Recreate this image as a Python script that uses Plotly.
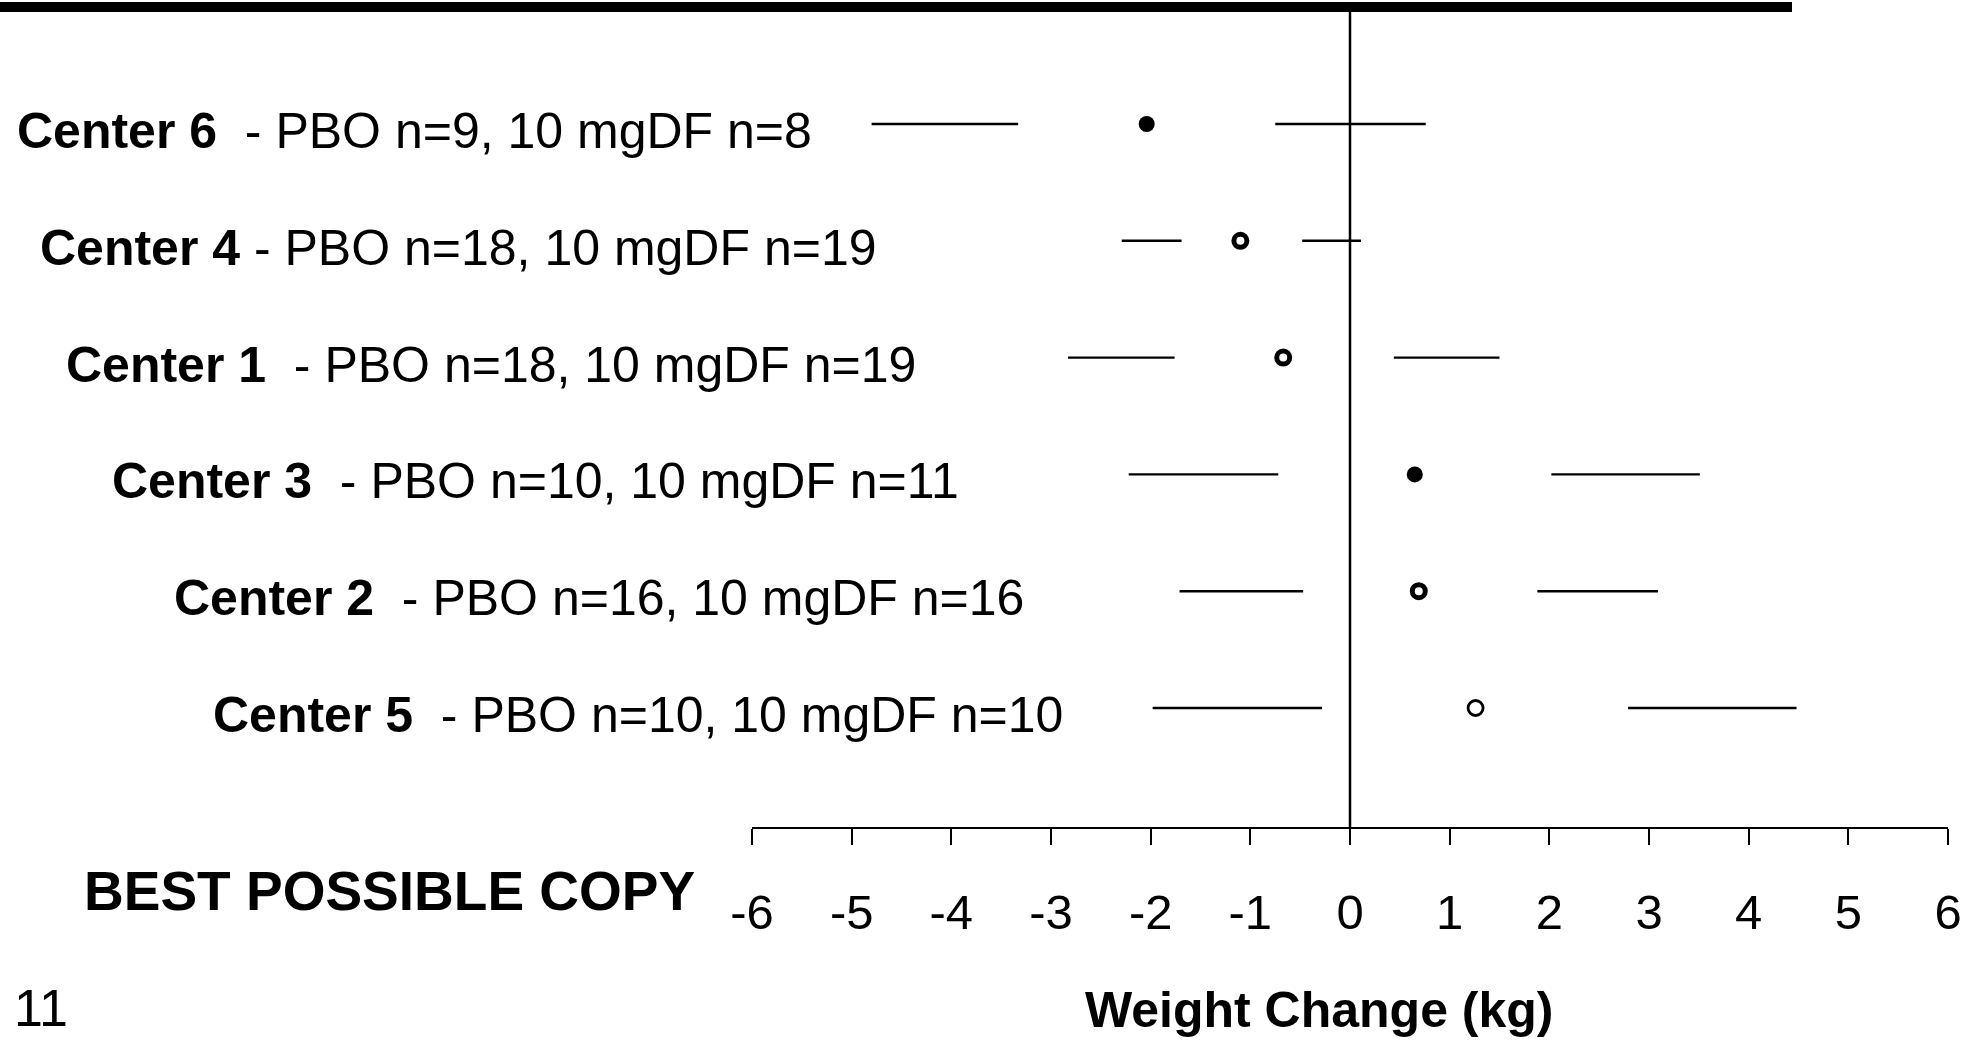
import plotly.graph_objects as go

# Per-centre weight change (kg): point estimate and the two interval segments
centers = ["Center 6", "Center 4", "Center 1", "Center 3", "Center 2", "Center 5"]
separators = ["\u00a0 - ", " - ", "\u00a0 - ", "\u00a0 - ", "\u00a0 - ", "\u00a0 - "]
pbo_n = [9, 18, 18, 10, 16, 10]
mgdf_n = [8, 19, 19, 11, 16, 10]
estimate = [-2.04, -1.10, -0.67, 0.65, 0.69, 1.26]
left_outer = [-4.80, -2.29, -2.83, -2.22, -1.71, -1.98]
left_inner = [-3.33, -1.69, -1.76, -0.72, -0.47, -0.28]
right_inner = [-0.75, -0.48, 0.44, 2.02, 1.88, 2.79]
right_outer = [0.76, 0.11, 1.50, 3.51, 3.09, 4.48]
marker_kind = ["filled", "ring", "ring", "filled", "ring", "open"]
label_left_px = [15, 38, 64, 110, 172, 211]

x_ticks = list(range(-6, 7))

W, H = 1986, 1045
ML, MR, MT, MB = 752, 38, 0, 218
plot_w = W - ML - MR
plot_h = H - MT - MB

n = len(centers)
rows = [n - 1 - i for i in range(n)]  # top row first

INK = "#000000"
TEXT_FONT = "Liberation Sans, Arial, sans-serif"

fig = go.Figure()

# interval segments on either side of each estimate
for i in range(n):
    fig.add_trace(go.Scatter(
        x=[left_outer[i], left_inner[i], None, right_inner[i], right_outer[i]],
        y=[rows[i]] * 2 + [None] + [rows[i]] * 2,
        mode="lines",
        line=dict(color=INK, width=2.4),
        hoverinfo="skip",
        showlegend=False,
    ))

# point estimates
styles = {
    "filled": dict(symbol="circle", size=16, color=INK, line=dict(width=0)),
    "ring": dict(symbol="circle-open", size=13, color=INK, line=dict(width=5, color=INK)),
    "open": dict(symbol="circle-open", size=15, color=INK, line=dict(width=2.8, color=INK)),
}
for i in range(n):
    fig.add_trace(go.Scatter(
        x=[estimate[i]], y=[rows[i]],
        mode="markers",
        marker=styles[marker_kind[i]],
        showlegend=False,
    ))

shapes = [
    # heavy rule across the top
    dict(type="line", xref="paper", yref="paper",
         x0=(0 - ML) / plot_w, x1=(1792 - ML) / plot_w,
         y0=1 - 7 / plot_h, y1=1 - 7 / plot_h,
         line=dict(color=INK, width=10)),
    # no-change reference line
    dict(type="line", xref="x", yref="paper", x0=0, x1=0,
         y0=0, y1=1 - 7 / plot_h, line=dict(color=INK, width=2.5)),
]

annotations = []
for i in range(n):
    text = (f"<b>{centers[i]}</b>{separators[i]}PBO n={pbo_n[i]}, "
            f"10 mgDF n={mgdf_n[i]}")
    annotations.append(dict(
        text=text, xref="paper", yref="y",
        x=(label_left_px[i] - ML) / plot_w, y=rows[i],
        xanchor="left", yanchor="middle", showarrow=False, yshift=-7,
        font=dict(family=TEXT_FONT, size=50, color=INK),
    ))

annotations.append(dict(
    text="<b>Weight Change (kg)</b>", xref="paper", yref="paper",
    x=(1319 - ML) / plot_w, y=(plot_h - 1010 + MT) / plot_h,
    xanchor="center", yanchor="middle", showarrow=False,
    font=dict(family=TEXT_FONT, size=50, color=INK),
))
annotations.append(dict(
    text="<b>BEST POSSIBLE COPY</b>", xref="paper", yref="paper",
    x=(82 - ML) / plot_w, y=(plot_h - 891 + MT) / plot_h,
    xanchor="left", yanchor="middle", showarrow=False,
    font=dict(family=TEXT_FONT, size=55, color=INK),
))
annotations.append(dict(
    text="11", xref="paper", yref="paper",
    x=(12 - ML) / plot_w, y=(plot_h - 1008 + MT) / plot_h,
    xanchor="left", yanchor="middle", showarrow=False,
    font=dict(family=TEXT_FONT, size=52, color=INK),
))

row_px = 116.8
fig.update_layout(
    width=W, height=H,
    margin=dict(l=ML, r=MR, t=MT, b=MB, pad=0),
    paper_bgcolor="white", plot_bgcolor="white",
    shapes=shapes, annotations=annotations,
    xaxis=dict(
        range=[-6, 6], tickmode="array", tickvals=x_ticks,
        ticktext=[str(v) for v in x_ticks],
        showline=True, linecolor=INK, linewidth=2,
        ticks="outside", ticklen=16, tickwidth=2, tickcolor=INK,
        showgrid=False, zeroline=False, ticklabelstandoff=25,
        tickfont=dict(family=TEXT_FONT, size=49, color=INK),
    ),
    yaxis=dict(
        range=[5 - (plot_h - 124) / row_px, 5 + 124 / row_px],
        visible=False, showgrid=False, zeroline=False,
    ),
)

fig.write_html("out.html")
